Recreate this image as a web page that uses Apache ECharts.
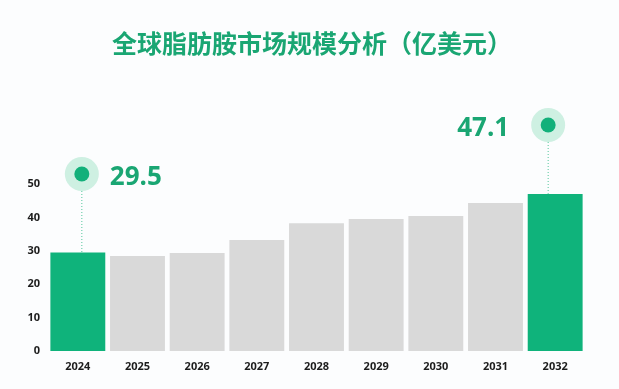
<!DOCTYPE html>
<html><head><meta charset="utf-8">
<script src="https://cdn.jsdelivr.net/npm/echarts@6/dist/echarts.min.js"></script>
<style>html,body{margin:0;padding:0;background:#fcfdfe;}#c{width:619px;height:389px;}</style>
</head><body><div id="c"></div>
<script>
const titleText = '全球脂肪胺市场规模分析（亿美元）';
const years = ['2024','2025','2026','2027','2028','2029','2030','2031','2032'];
const values = [29.5, 28.5, 29.4, 33.3, 38.3, 39.6, 40.5, 44.4, 47.1];
const highlighted = ['2024','2032'];

const GREEN = '#0fb37b';
const GRAY = '#d9d9d9';
const TEXT_GREEN = '#1aa673';

const chart = echarts.init(document.getElementById('c'), null, {renderer:'canvas'});
chart.setOption({
  backgroundColor: '#fcfdfe',
  animation: false,
  title: {
    text: titleText, left: 107, top: 26,
    textStyle: {fontSize: 25, fontWeight: 'bold', color: TEXT_GREEN, fontFamily: '"Noto Sans CJK SC", sans-serif'}
  },
  grid: {left: 48, right: 34, top: 117.5, bottom: 38},
  xAxis: {
    type: 'category', data: years,
    axisLine: {show: false}, axisTick: {show: false},
    axisLabel: {margin: 10, fontSize: 11, fontWeight: 'bold', color: '#1c1c1c', fontFamily: '"Open Sans", sans-serif'}
  },
  yAxis: {
    type: 'value', min: 0, max: 70, interval: 10,
    splitLine: {show: false}, axisLine: {show: false}, axisTick: {show: false},
    axisLabel: {
      fontSize: 11, fontWeight: 'bold', color: '#1c1c1c', fontFamily: '"Open Sans", sans-serif',
      formatter: v => v <= 50 ? String(v) : ''
    }
  },
  series: [{
    type: 'bar', data: values, barCategoryGap: '8%',
    itemStyle: {color: p => highlighted.includes(years[p.dataIndex]) ? GREEN : GRAY}
  }]
});

// annotation markers for highlighted bars
const markerLayout = {
  '2024': {dx: 4, y: 174, labelSide: 'right'},
  '2032': {dx: -7, y: 125, labelSide: 'left'}
};
const graphics = [];
highlighted.forEach(yr => {
  const i = years.indexOf(yr);
  const pt = chart.convertToPixel({seriesIndex: 0}, [i, values[i]]);
  const L = markerLayout[yr];
  const cx = pt[0] + L.dx, cy = L.y;
  graphics.push({type:'line', shape:{x1:cx, y1:cy+17, x2:cx, y2:pt[1]}, style:{stroke:'#55c79d', lineWidth:1, lineDash:[1,2]}, z:5});
  graphics.push({type:'circle', shape:{cx, cy, r:17}, style:{fill:'rgba(120,215,175,0.35)'}, z:5});
  graphics.push({type:'circle', shape:{cx, cy, r:7.5}, style:{fill:'#12b07a'}, z:6});
  graphics.push({type:'text', x: L.labelSide === 'right' ? cx + 28 : cx - 39, y: cy + 4,
    style:{text: values[i].toFixed(1), fill: TEXT_GREEN, font: 'bold 26px "Open Sans", sans-serif',
      textAlign: L.labelSide === 'right' ? 'left' : 'right', textVerticalAlign: 'middle'}, z:6});
});
chart.setOption({graphic: graphics});
</script></body></html>
